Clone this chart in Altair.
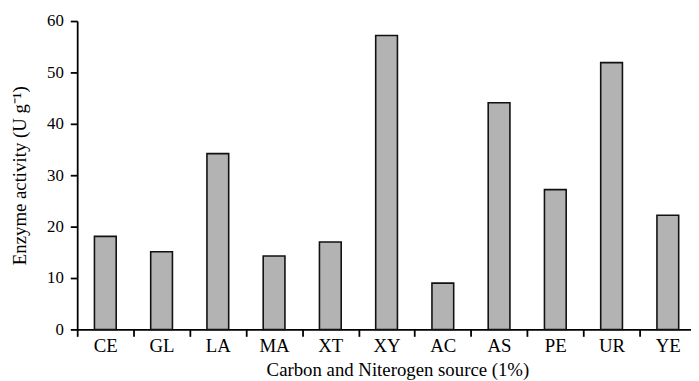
import altair as alt
import pandas as pd

categories = ["CE", "GL", "LA", "MA", "XT", "XY", "AC", "AS", "PE", "UR", "YE"]
values = [18.1, 15.1, 34.2, 14.3, 17.0, 57.2, 9.0, 44.1, 27.2, 51.9, 22.2]
y_ticks = [0, 10, 20, 30, 40, 50, 60]

df = pd.DataFrame({"source": categories, "activity": values})

FONT = "Liberation Serif"

bars = alt.Chart(df).mark_bar(
    width=22, color="#b3b3b3", stroke="#111111", strokeWidth=1.6
).encode(
    x=alt.X(
        "source:N",
        sort=categories,
        scale=alt.Scale(range=[0, 626], paddingInner=0, paddingOuter=0),
        axis=alt.Axis(
            title="Carbon and Niterogen source (1%)",
            labelAngle=0,
            labelFont=FONT,
            labelFontSize=19,
            labelColor="#000000",
            labelPadding=0,
            labelBaseline="top",
            tickBand="extent",
            tickSize=7,
            tickWidth=1.8,
            tickColor="#000000",
            domainColor="#000000",
            domainWidth=1.8,
            titleFont=FONT,
            titleFontSize=19,
            titleFontWeight="normal",
            titleColor="#000000",
            titleX=324,
            titleY=46.5,
            titleAlign="center",
            titleBaseline="alphabetic",
        ),
    ),
    y=alt.Y(
        "activity:Q",
        scale=alt.Scale(domain=[0, 60], nice=False),
        axis=alt.Axis(
            title="Enzyme activity (U g⁻¹)",
            values=y_ticks,
            grid=False,
            labelFont=FONT,
            labelFontSize=17,
            labelColor="#000000",
            labelPadding=7,
            tickSize=7,
            tickWidth=1.8,
            tickColor="#000000",
            domainColor="#000000",
            domainWidth=1.8,
            titleFont=FONT,
            titleFontSize=19,
            titleFontWeight="normal",
            titleColor="#000000",
            titleAngle=-90,
            titleX=-52,
            titleY=156,
            titleAlign="center",
            titleBaseline="alphabetic",
        ),
    ),
)

chart = bars.properties(
    width=621,
    height=312,
    autosize=alt.AutoSizeParams(type="none"),
    padding={"left": 70, "top": 11, "right": 0, "bottom": 50},
    background="#ffffff",
).configure_view(stroke=None)

chart.save("out.html", embed_options={"renderer": "svg", "actions": False})
